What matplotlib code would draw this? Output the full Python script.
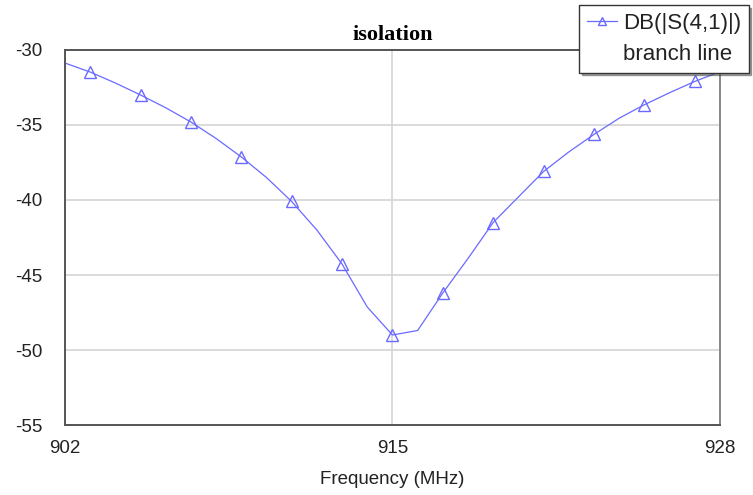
import matplotlib
matplotlib.use("Agg")
import matplotlib.pyplot as plt
from matplotlib.lines import Line2D

# frequency sweep (MHz) and isolation (dB)
freq = [902, 903, 904, 905, 906, 907, 908, 909, 910, 911, 912, 913, 914, 915,
        916, 917, 918, 919, 920, 921, 922, 923, 924, 925, 926, 927, 928]
s41_db = [-30.87, -31.47, -32.2, -33.0, -33.85, -34.8, -35.9, -37.13, -38.5,
          -40.1, -42.0, -44.27, -47.13, -49.0, -48.7, -46.2, -43.9, -41.5,
          -39.8, -38.1, -36.8, -35.63, -34.55, -33.65, -32.85, -32.1, -31.45]

x_ticks = [902, 915, 928]
y_ticks = [-30, -35, -40, -45, -50, -55]
legend_lines = ['DB(|S(4,1)|)', 'branch line']

plt.rcParams['font.family'] = ['Liberation Sans', 'DejaVu Sans']
plt.rcParams['axes.unicode_minus'] = False

fig = plt.figure(figsize=(7.53, 4.95), dpi=100)
ax = fig.add_axes([0.0863, 0.1414, 0.8697, 0.7576])

line_color = '#6a6aff'
ax.plot(freq, s41_db, color=line_color, linewidth=0.9, marker='^',
        markevery=(1, 2), markersize=9, markerfacecolor='none',
        markeredgecolor=line_color, markeredgewidth=1.0)

ax.set_xlim(902, 928)
ax.set_ylim(-55, -30)
ax.set_xticks(x_ticks)
ax.set_yticks(y_ticks)
ax.tick_params(length=0, labelsize=13.5, colors='#222222')
ax.tick_params(axis='y', pad=16)
ax.tick_params(axis='x', pad=11)
ax.grid(True, color='#d4d4d4', linewidth=1.2)
ax.set_axisbelow(True)
for side in ['left', 'bottom', 'top']:
    ax.spines[side].set_color('#555555')
    ax.spines[side].set_linewidth(1.4)
ax.spines['right'].set_color('#888888')
ax.spines['right'].set_linewidth(1.4)

ax.set_xlabel('Frequency (MHz)', fontsize=13.5, color='#222222', labelpad=10)
ax.set_title('isolation', fontsize=16, fontweight='bold',
             family=['Liberation Serif'], pad=7)

# legend: series name on the first row, sweep name below it without a handle
handles = [Line2D([], [], color=line_color, linewidth=0.9, marker='^',
                  markersize=6, markerfacecolor='none',
                  markeredgecolor=line_color),
           Line2D([], [], color='none')]
leg = ax.legend(handles, legend_lines, loc='upper left',
                bbox_to_anchor=(579 / 753, 1 - 5 / 495),
                bbox_transform=fig.transFigure, fontsize=16, frameon=True,
                shadow=True, fancybox=False, borderpad=0.35,
                handlelength=1.35, handletextpad=0.27, labelspacing=0.45,
                borderaxespad=0)
leg.get_frame().set_edgecolor('#333333')
leg.get_frame().set_linewidth(1.0)
for t in leg.get_texts():
    t.set_color('#222222')

fig.savefig('out.png', dpi=100)
